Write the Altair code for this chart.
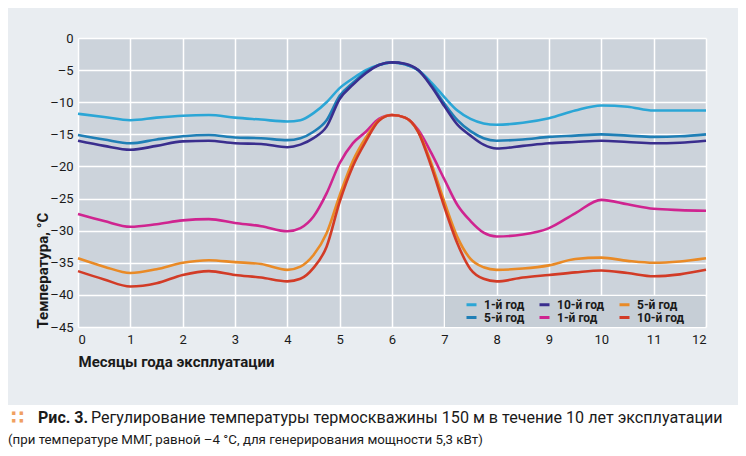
import altair as alt
import pandas as pd

# Months of operation (x)
months = [0, 0.5, 1, 1.5, 2, 2.5, 3, 3.5, 4, 4.25, 4.5, 4.75, 5, 5.25, 5.5, 5.75, 6,
          6.25, 6.5, 6.75, 7, 7.25, 7.5, 7.75, 8, 8.5, 9, 9.5, 10, 10.5, 11, 11.5, 12]

# Upper group
s1 = [-11.8, -12.3, -12.8, -12.4, -12.1, -12.0, -12.4, -12.7, -13.0, -12.8, -11.7, -10.0, -7.8,
      -6.3, -5.0, -4.2, -3.8, -4.1, -5.0, -6.9, -9.2, -11.3, -12.6, -13.3, -13.5, -13.2, -12.5,
      -11.3, -10.5, -10.7, -11.3, -11.3, -11.3]
s5 = [-15.1, -15.8, -16.4, -15.8, -15.3, -15.1, -15.5, -15.6, -15.9, -15.6, -14.6, -12.8, -9.0,
      -7.0, -5.3, -4.2, -3.8, -4.1, -5.0, -7.3, -10.2, -12.8, -14.5, -15.6, -16.0, -15.8, -15.4,
      -15.2, -15.0, -15.2, -15.4, -15.3, -15.0]
s10 = [-16.0, -16.8, -17.4, -16.8, -16.1, -16.0, -16.4, -16.5, -17.0, -16.6, -15.6, -13.8, -9.5,
       -7.3, -5.5, -4.2, -3.8, -4.0, -5.0, -7.5, -10.6, -13.5, -15.2, -16.6, -17.2, -16.8, -16.4,
       -16.2, -16.0, -16.2, -16.4, -16.3, -16.0]
# Lower group
t1 = [-27.4, -28.5, -29.4, -29.0, -28.4, -28.2, -28.8, -29.3, -30.1, -29.6, -27.8, -24.2, -19.5,
      -16.4, -14.6, -12.6, -12.0, -12.4, -14.3, -17.9, -22.0, -26.0, -28.5, -30.3, -30.9, -30.6,
      -29.6, -27.3, -25.2, -25.9, -26.6, -26.8, -26.9]
t5 = [-34.3, -35.6, -36.6, -36.0, -35.0, -34.6, -34.9, -35.2, -36.1, -35.6, -33.8, -30.4, -24.5,
      -19.2, -15.5, -12.8, -12.0, -12.4, -14.6, -19.5, -25.5, -31.0, -34.4, -35.7, -36.1, -35.9,
      -35.4, -34.4, -34.2, -34.7, -35.0, -34.8, -34.3]
t10 = [-36.3, -37.6, -38.7, -38.2, -36.9, -36.3, -36.9, -37.3, -37.9, -37.5, -35.8, -32.5, -25.5,
       -20.0, -16.1, -12.9, -12.0, -12.4, -14.6, -20.0, -26.3, -32.0, -36.0, -37.5, -37.9, -37.3,
       -36.9, -36.5, -36.2, -36.6, -37.1, -36.8, -36.1]

series_keys = ["s1", "s5", "s10", "t1", "t5", "t10"]
series_vals = [s1, s5, s10, t1, t5, t10]
legend_order = ["s1", "s10", "t5", "s5", "t1", "t10"]
colors = {"s1": "#2ba6d6", "s10": "#3a2e8e", "t5": "#e98a26",
          "s5": "#1f7fb6", "t1": "#cf2490", "t10": "#d23b26"}

y_ticks = list(range(-45, 1, 5))
x_ticks = list(range(0, 13))

caption_bold = "Рис. 3."
caption_1 = "Регулирование температуры термоскважины 150 м в течение 10 лет эксплуатации"
caption_2 = "(при температуре ММГ, равной –4 °С, для генерирования мощности 5,3 кВт)"

rows = []
for k, vals in zip(series_keys, series_vals):
    for m, v in zip(months, vals):
        rows.append({"month": m, "temp": v, "series": k})
df = pd.DataFrame(rows)
one = pd.DataFrame({"a": [0]})

FONT = "Roboto"

lines = alt.Chart(df).mark_line(strokeWidth=2.6, interpolate="monotone").encode(
    x=alt.X("month:Q", scale=alt.Scale(domain=[0, 12], nice=False),
            axis=alt.Axis(values=x_ticks, title="Месяцы года эксплуатации",
                          titleAnchor="start", titleAlign="left", titleX=0, titleY=34,
                          titleBaseline="middle", labelPadding=6)),
    y=alt.Y("temp:Q", scale=alt.Scale(domain=[-45, 0], nice=False),
            axis=alt.Axis(values=y_ticks,
                          labelExpr="datum.value < 0 ? '–' + abs(datum.value) : datum.value",
                          title="Температура, °С", titleAngle=-90, titleAlign="left",
                          titleBaseline="middle", titleX=-36, titleY=290, labelPadding=5)),
    color=alt.Color("series:N",
                    scale=alt.Scale(domain=legend_order, range=[colors[k] for k in legend_order]),
                    legend=alt.Legend(orient="none", legendX=387, legendY=260, columns=3,
                                      direction="horizontal", title=None,
                                      symbolType="stroke", symbolStrokeWidth=3, symbolSize=100,
                                      labelExpr="substring(datum.label, 1) + '-й год'",
                                      labelFont=FONT, labelFontSize=12, labelFontWeight="bold",
                                      labelColor="#1a1a1a", labelOffset=6, columnPadding=8,
                                      rowPadding=0, padding=0)),
)

legend_box = alt.Chart(one).mark_rect(color="#c6ced6").encode(
    x=alt.value(367), x2=alt.value(627), y=alt.value(258), y2=alt.value(289))

white_band = alt.Chart(one).mark_rect(color="#ffffff").encode(
    x=alt.value(-72), x2=alt.value(665), y=alt.value(367), y2=alt.value(415))

dots = alt.Chart(one).mark_text(text="∷", color="#f0a062", fontSize=19, fontWeight="bold",
                                 align="left", baseline="middle", font="DejaVu Sans").encode(
    x=alt.value(-67), y=alt.value(380))
cap_b = alt.Chart(one).mark_text(text=caption_bold, color="#1a1a1a", fontSize=16, fontWeight="bold",
                                 align="left", baseline="middle", font=FONT).encode(
    x=alt.value(-40), y=alt.value(380))
cap_1 = alt.Chart(one).mark_text(text=caption_1, color="#1a1a1a", fontSize=16.1,
                                 align="left", baseline="middle", font=FONT).encode(
    x=alt.value(13), y=alt.value(380))
cap_2 = alt.Chart(one).mark_text(text=caption_2, color="#1a1a1a", fontSize=13.3,
                                 align="left", baseline="middle", font=FONT).encode(
    x=alt.value(-70), y=alt.value(402))

chart = alt.layer(legend_box, lines, white_band, dots, cap_b, cap_1, cap_2).properties(
    width=628, height=289,
    autosize=alt.AutoSizeParams(type="none"),
    padding={"left": 70, "top": 30, "right": 32, "bottom": 121},
    background="#e9edf1",
).configure_view(fill="#ccd3db", stroke="transparent").configure_axis(
    grid=True, gridColor="#ffffff", gridWidth=1.5, domain=False, ticks=False,
    labelFont=FONT, labelFontSize=13, labelColor="#1a1a1a",
    titleFont=FONT, titleFontSize=15, titleFontWeight="bold", titleColor="#1a1a1a",
)

chart.save("out.html", embed_options={"renderer": "svg", "actions": False})
